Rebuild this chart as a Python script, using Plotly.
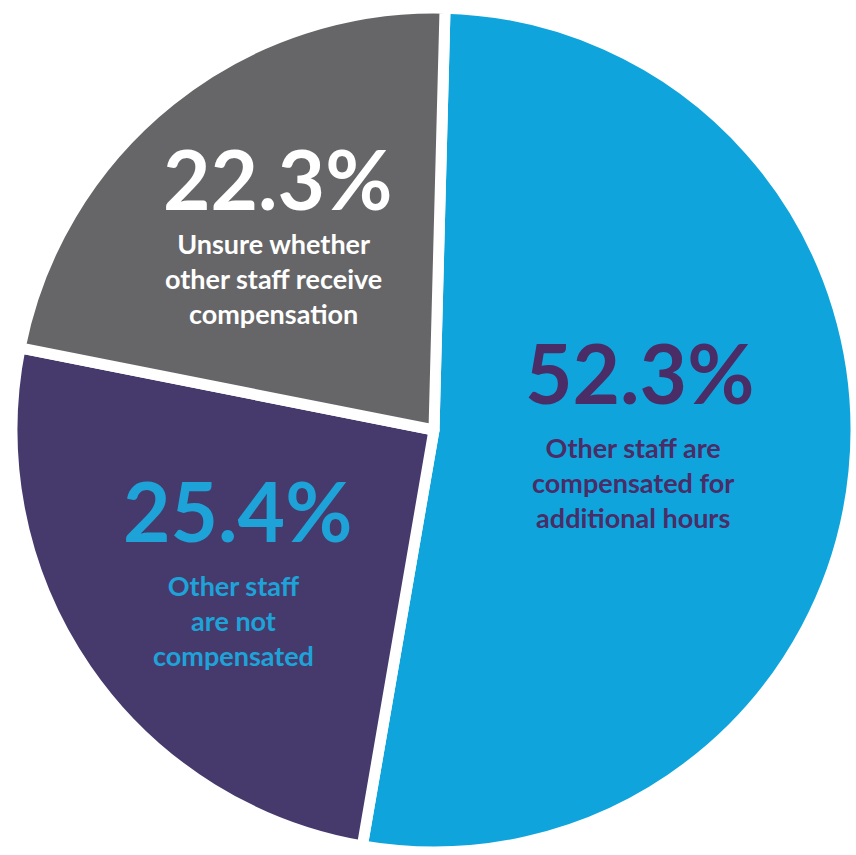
import plotly.graph_objects as go

# Survey shares: do other staff get compensated for additional hours?
shares = [52.3, 25.4, 22.3]
categories = [
    "Other staff are compensated for additional hours",
    "Other staff are not compensated",
    "Unsure whether other staff receive compensation",
]
# Wrapped description lines shown inside each slice
desc_lines = [
    ["Other staff are", "compensated for", "additional hours"],
    ["Other staff", "are not", "compensated"],
    ["Unsure whether", "other staff receive", "compensation"],
]
slice_colors = ["#0fa5dc", "#463a6d", "#666567"]
text_colors = ["#4a2c67", "#1ea3d9", "#ffffff"]

W, H = 856, 855
FONT = "Lato"

fig = go.Figure(
    go.Pie(
        labels=categories,
        values=shares,
        sort=False,
        direction="clockwise",
        rotation=1.5,
        marker=dict(colors=slice_colors, line=dict(color="#ffffff", width=11)),
        textinfo="none",
        hoverinfo="label+percent",
        showlegend=False,
        domain=dict(x=[12 / W, 1.0], y=[0.0, 850 / H]),
    )
)

# Label anchor points (pixel centre of percentage, pixel centre of text block)
pct_pos = [(639, 372), (237, 510), (277, 178)]
desc_pos = [(633, 482), (233, 620), (273, 278)]


def px(x, y):
    return x / W, 1 - y / H


annotations = []
for i, v in enumerate(shares):
    x, y = px(*pct_pos[i])
    annotations.append(
        dict(
            text=f"{v:.1f}%",
            x=x, y=y, xref="paper", yref="paper",
            xanchor="center", yanchor="middle", showarrow=False,
            font=dict(family=FONT, size=82, color=text_colors[i], weight=700),
        )
    )
    x, y = px(*desc_pos[i])
    annotations.append(
        dict(
            text="<br>".join(desc_lines[i]),
            x=x, y=y, xref="paper", yref="paper",
            xanchor="center", yanchor="middle", showarrow=False, align="center",
            font=dict(family=FONT, size=27, color=text_colors[i], weight=700),
        )
    )

fig.update_layout(
    width=W,
    height=H,
    margin=dict(l=0, r=0, t=0, b=0),
    paper_bgcolor="#ffffff",
    plot_bgcolor="#ffffff",
    annotations=annotations,
)

fig.write_html("out.html")
